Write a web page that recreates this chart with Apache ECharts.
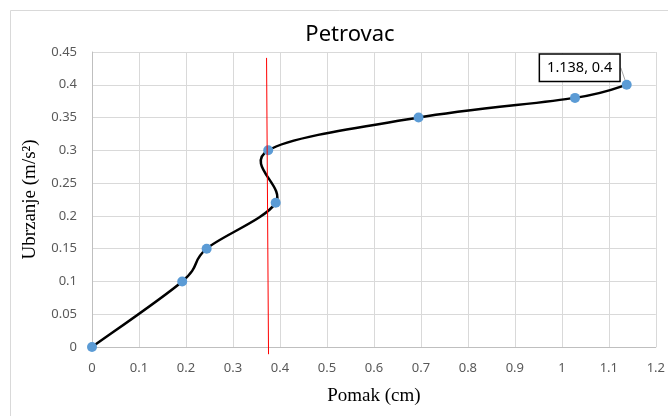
<!DOCTYPE html>
<html>
<head>
<meta charset="utf-8">
<script src="https://cdn.jsdelivr.net/npm/echarts@6/dist/echarts.min.js"></script>
<style>html,body{margin:0;padding:0;background:#fff}#c{width:668px;height:416px}</style>
</head>
<body>
<div id="c"></div>
<script>
var pomak = [0, 0.192, 0.244, 0.391, 0.375, 0.695, 1.028, 1.138];
var ubrzanje = [0, 0.1, 0.15, 0.22, 0.3, 0.35, 0.38, 0.4];
var redLineX = [0.3715, 0.3757];
var redLineY = [0.441, -0.011];
var xTicks = [0, 1.2, 0.1];
var yTicks = [0, 0.45, 0.05];
var labelIndex = 7;

var pts = pomak.map(function (x, i) { return [x, ubrzanje[i]]; });
var redPts = redLineX.map(function (x, i) { return [x, redLineY[i]]; });

function smoothSegment(params, api) {
  var i = params.dataIndex, n = pts.length;
  if (i >= n - 1) return null;
  var p0 = api.coord(pts[Math.max(i - 1, 0)]);
  var p1 = api.coord(pts[i]);
  var p2 = api.coord(pts[i + 1]);
  var p3 = api.coord(pts[Math.min(i + 2, n - 1)]);
  var t = 1 / 6;
  return {
    type: 'bezierCurve',
    shape: {
      x1: p1[0], y1: p1[1], x2: p2[0], y2: p2[1],
      cpx1: p1[0] + (p2[0] - p0[0]) * t, cpy1: p1[1] + (p2[1] - p0[1]) * t,
      cpx2: p2[0] - (p3[0] - p1[0]) * t, cpy2: p2[1] - (p3[1] - p1[1]) * t
    },
    style: { stroke: '#000', lineWidth: 2.5, fill: null, lineCap: 'round' }
  };
}

var chart = echarts.init(document.getElementById('c'));
var tickFont = { color: '#595959', fontSize: 13, fontFamily: 'Noto Sans' };
var nameFont = { fontFamily: 'Liberation Serif', fontSize: 19, color: '#000' };
var seriesData = pts.map(function (p, i) {
  if (i !== labelIndex) return p;
  return {
    value: p,
    label: {
      show: true, position: 'inside',
      formatter: pomak[i] + ', ' + ubrzanje[i],
      backgroundColor: '#fff', borderColor: '#000', borderWidth: 1.5,
      padding: [6, 7, 5, 7], color: '#000', fontSize: 14.5, fontFamily: 'Noto Sans'
    }
  };
});
chart.setOption({
  animation: false,
  backgroundColor: '#fff',
  title: {
    text: 'Petrovac', left: 345, textAlign: 'center', top: 19,
    textStyle: { fontSize: 22, fontWeight: 'normal', color: '#000', fontFamily: 'Noto Sans' }
  },
  graphic: [{
    type: 'rect', shape: { x: 10.5, y: 10.5, width: 700, height: 450 },
    style: { fill: 'none', stroke: '#d9d9d9', lineWidth: 1 }, z: -1
  }],
  grid: { left: 92, right: 9, top: 52, bottom: 69 },
  xAxis: {
    type: 'value', min: xTicks[0], max: xTicks[1], interval: xTicks[2],
    name: 'Pomak (cm)', nameLocation: 'middle', nameGap: 40,
    nameTextStyle: nameFont,
    axisLine: { lineStyle: { color: '#bfbfbf' } }, axisTick: { show: false },
    axisLabel: Object.assign({ margin: 15 }, tickFont),
    splitLine: { lineStyle: { color: '#d9d9d9' } }
  },
  yAxis: {
    type: 'value', min: yTicks[0], max: yTicks[1], interval: yTicks[2],
    name: 'Ubrzanje (m/s²)', nameLocation: 'middle', nameGap: 52,
    nameTextStyle: nameFont,
    axisLine: { show: true, lineStyle: { color: '#bfbfbf' } }, axisTick: { show: false },
    axisLabel: Object.assign({ margin: 15 }, tickFont),
    splitLine: { lineStyle: { color: '#d9d9d9' } }
  },
  series: [{
    type: 'custom', data: pts, renderItem: smoothSegment,
    encode: { x: 0, y: 1 }, z: 2, silent: true
  }, {
    type: 'scatter', data: seriesData,
    symbol: 'circle', symbolSize: 10, itemStyle: { color: '#5b9bd5', opacity: 1 },
    z: 3,
    labelLine: { show: true, lineStyle: { color: '#a6a6a6', width: 1 } },
    labelLayout: function (p) {
      if (p.dataIndex !== labelIndex) return {};
      return { dx: -47, dy: -17 };
    }
  }, {
    type: 'line', data: redPts, symbol: 'none', clip: false,
    lineStyle: { color: '#ff0000', width: 1 }, z: 4, silent: true
  }]
});
</script>
</body>
</html>
